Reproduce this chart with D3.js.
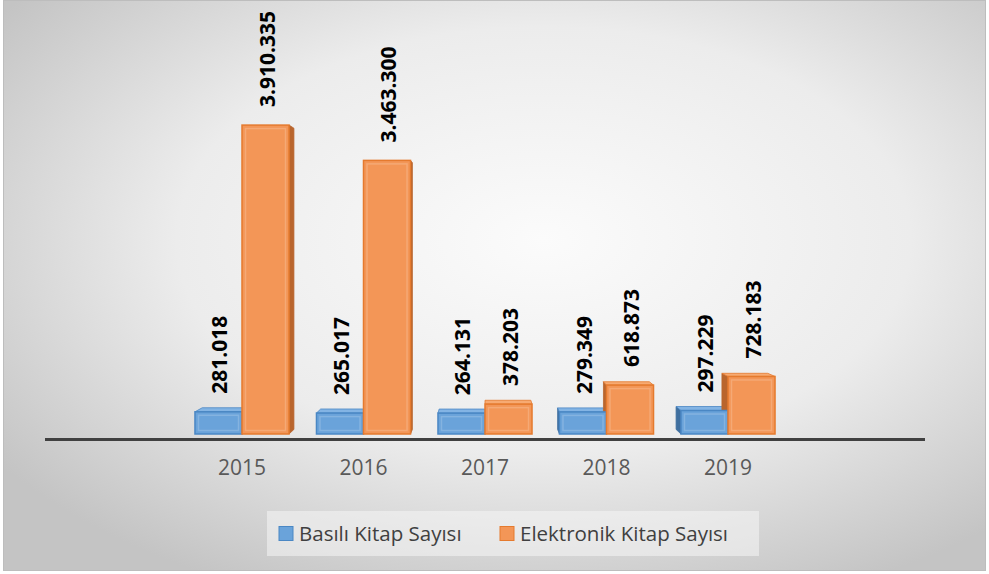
<!DOCTYPE html>
<html lang="tr">
<head>
<meta charset="UTF-8">
<title>Kitap Sayısı</title>
<script src="https://d3js.org/d3.v7.min.js"></script>
<style>
    body { margin: 0; background: #fff; }
    text { font-family: "Open Sans", "DejaVu Sans", sans-serif; }
    .lbl { font-weight: bold; font-size: 21px; fill: #000; }
    .tick text { font-size: 21px; fill: #595959; }
    .leg { font-size: 20.5px; fill: #404040; }
</style>
</head>
<body>
<svg width="989" height="574"></svg>
<script>
    let years = ["2015", "2016", "2017", "2018", "2019"];
    let basili = [281018, 265017, 264131, 279349, 297229];
    let elektronik = [3910335, 3463300, 378203, 618873, 728183];
    let seriesNames = ["Basılı Kitap Sayısı", "Elektronik Kitap Sayısı"];

    let colors = [
        {front: "#6aa3da", edge: "#4a87c4", side: "#3f6f9f", top: "#83b4e4"},
        {front: "#f39657", edge: "#e57a2e", side: "#b9652d", top: "#f7aa72"}
    ];

    let svg = d3.select("svg");
    let defs = svg.append("defs");
    let grad = defs.append("radialGradient").attr("id", "bg")
        .attr("cx", "55%").attr("cy", "42%").attr("r", "68%");
    grad.append("stop").attr("offset", "0%").attr("stop-color", "#fbfbfb");
    grad.append("stop").attr("offset", "55%").attr("stop-color", "#ececec");
    grad.append("stop").attr("offset", "100%").attr("stop-color", "#c4c4c4");

    svg.append("rect").attr("x", 3.5).attr("y", 0.5).attr("width", 982).attr("height", 570)
        .attr("fill", "url(#bg)").attr("stroke", "#bdbdbd");

    let baseY = 434;
    let xScale = d3.scaleBand().domain(years).range([181.25, 788.75])
        .paddingInner(0.226).paddingOuter(0.113);
    let inner = d3.scaleBand().domain([0, 1]).range([0, xScale.bandwidth()]);
    let yScale = d3.scaleLinear().domain([0, 4000000]).range([baseY, baseY - 316]);

    // vanishing point for the 3D look
    let vp = {x: xScale("2017") + xScale.bandwidth() / 2, y: 250};
    let k = 0.025;
    function back(x, y) { return [x + (vp.x - x) * k, y + (vp.y - y) * k]; }

    let bars = [];
    years.forEach(function (yr, i) {
        [basili[i], elektronik[i]].forEach(function (v, s) {
            let x0 = xScale(yr) + inner(s);
            bars.push({year: yr, s: s, v: v, x0: x0, x1: x0 + inner.bandwidth(), yt: yScale(v), yb: baseY});
        });
    });

    let faces = svg.append("g");
    bars.forEach(function (b) {
        let c = colors[b.s];
        let pts;
        if (b.x1 < vp.x) {
            pts = [[b.x1, b.yt], [b.x1, b.yb], back(b.x1, b.yb), back(b.x1, b.yt)];
        } else if (b.x0 > vp.x) {
            pts = [[b.x0, b.yt], [b.x0, b.yb], back(b.x0, b.yb), back(b.x0, b.yt)];
        }
        if (pts) faces.append("polygon").attr("points", pts.join(" "))
            .attr("fill", c.side).attr("stroke", c.side).attr("stroke-width", 0.8);
        if (b.yt > vp.y) {
            let tp = [[b.x0, b.yt], [b.x1, b.yt], back(b.x1, b.yt), back(b.x0, b.yt)];
            faces.append("polygon").attr("points", tp.join(" "))
                .attr("fill", c.top).attr("stroke", c.edge).attr("stroke-width", 0.8);
        }
    });

    let fronts = svg.append("g");
    bars.forEach(function (b) {
        let c = colors[b.s];
        fronts.append("rect").attr("x", b.x0).attr("y", b.yt)
            .attr("width", b.x1 - b.x0).attr("height", b.yb - b.yt)
            .attr("fill", c.front).attr("stroke", c.edge).attr("stroke-width", 1.5);
        if (b.yb - b.yt > 10) {
            fronts.append("rect").attr("x", b.x0 + 3.5).attr("y", b.yt + 3.5)
                .attr("width", b.x1 - b.x0 - 7).attr("height", b.yb - b.yt - 7)
                .attr("fill", "none").attr("stroke", "#ffffff").attr("stroke-opacity", 0.18)
                .attr("stroke-width", 1.5);
        }
    });

    // value labels
    let fmt = function (v) { return d3.format(",")(v).replace(/,/g, "."); };
    svg.append("g").selectAll("text").data(bars).join("text")
        .attr("class", "lbl")
        .attr("text-anchor", "start")
        .attr("dominant-baseline", "central")
        .attr("transform", function (d) {
            return "translate(" + ((d.x0 + d.x1) / 2 + 1) + "," + (d.yt - 18) + ") rotate(-90)";
        })
        .text(function (d) { return fmt(d.v); });

    // axis line and year labels
    svg.append("line").attr("x1", 45).attr("x2", 925).attr("y1", 439.5).attr("y2", 439.5)
        .attr("stroke", "#404040").attr("stroke-width", 3);
    let xAxis = svg.append("g").attr("transform", "translate(0,460)")
        .call(d3.axisBottom(xScale).tickSize(0).tickPadding(0));
    xAxis.select(".domain").remove();
    xAxis.selectAll("text").attr("dy", "0.71em").style("font-family", null);

    // legend
    let leg = svg.append("g");
    leg.append("rect").attr("x", 267).attr("y", 511).attr("width", 492).attr("height", 45)
        .attr("fill", "#f6f6f6").attr("fill-opacity", 0.55);
    let legX = [279, 500];
    seriesNames.forEach(function (n, i) {
        leg.append("rect").attr("x", legX[i]).attr("y", 526.5).attr("width", 14).attr("height", 14)
            .attr("fill", colors[i].front).attr("stroke", colors[i].edge);
        leg.append("text").attr("class", "leg").attr("x", legX[i] + 20).attr("y", 540.5).text(n);
    });
</script>
</body>
</html>
